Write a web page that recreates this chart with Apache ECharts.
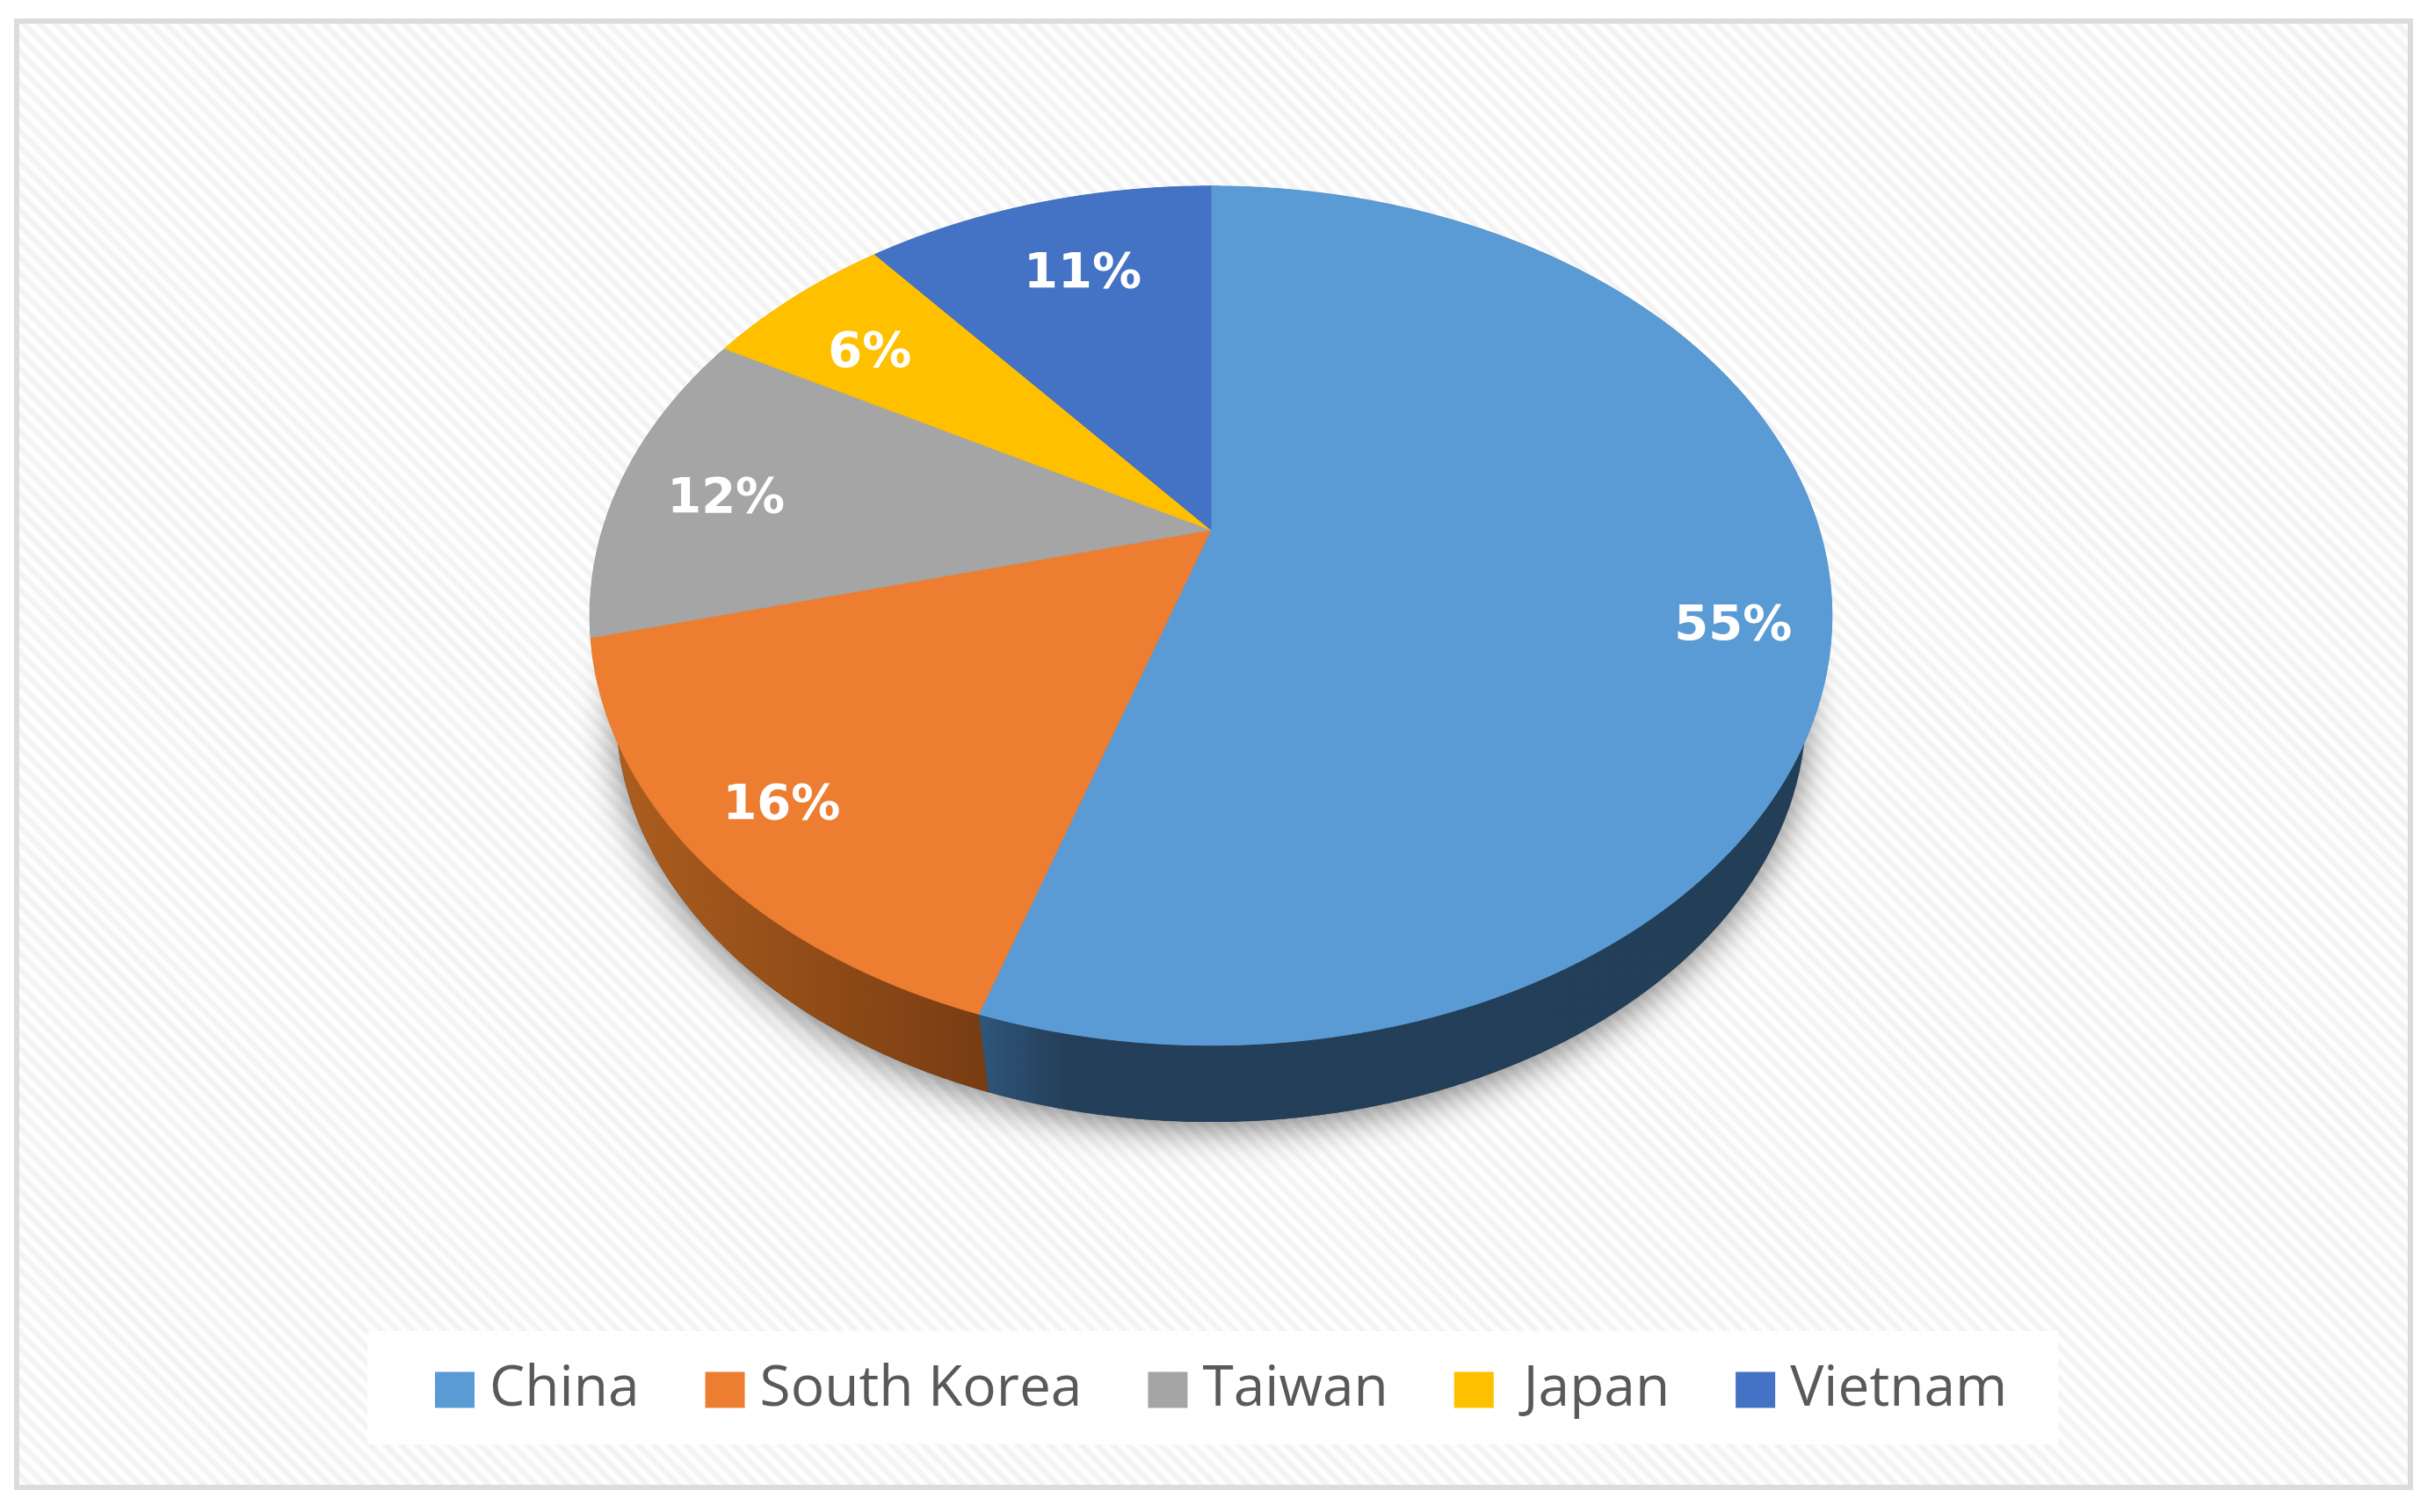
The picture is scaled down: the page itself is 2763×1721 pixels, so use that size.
<!DOCTYPE html>
<html>
<head>
<meta charset="utf-8">
<title>Pie</title>
<script src="https://cdn.jsdelivr.net/npm/echarts@6/dist/echarts.min.js"></script>
<style>
html, body { margin: 0; padding: 0; background: #fff; }
#chart { width: 2763px; height: 1721px; }
</style>
</head>
<body>
<div id="chart"></div>
<script>
const categories = ["China", "South Korea", "Taiwan", "Japan", "Vietnam"];
const shares = [55, 16, 12, 6, 11];

const topColors = ["#5b9bd5", "#ed7d31", "#a5a5a5", "#ffc000", "#4472c4"];
// side wall shading, only the first two ever show
const wallColors = [
  [[0, "#2f567b"], [0.1, "#243f5a"], [1, "#233e57"]],
  [[0, "#b0601f"], [1, "#783c12"]],
  [[0, "#636363"], [1, "#636363"]],
  [[0, "#997300"], [1, "#997300"]],
  [[0, "#294477"], [1, "#294477"]],
];
// nudge of each percent label from its slice's mid angle
const labelNudge = [[-3, 46], [-3, 5], [20, 14], [21, 29], [26, 33]];

// the tilted disc: a circle seen in perspective, so the apex is not the ellipse centre
const pie = { x: 1378, y: 603, rx: 692.5, ry: 469.4, tilt: -0.2 };
const lower = { scale: 0.958, drop: 112 };
const total = shares.reduce((a, b) => a + b, 0);

function project(value, r, scale, drop) {
  const t = (value / total) * Math.PI * 2;
  const x = r * Math.sin(t);
  const y = -r * Math.cos(t);
  const d = 1 + pie.tilt * y;
  return [pie.x + (scale * pie.rx * x) / d, pie.y + drop + (scale * pie.ry * y) / d];
}

function arc(from, to, scale, drop) {
  const pts = [];
  const n = Math.max(2, Math.ceil((to - from) * 8));
  for (let i = 0; i <= n; i++) {
    pts.push(project(from + ((to - from) * i) / n, 1, scale, drop));
  }
  return pts;
}

function renderSlice(params, api) {
  const i = params.seriesIndex;
  const value = api.value(0);
  const start = api.value(1);
  const end = start + value;
  const topArc = arc(start, end, 1, 0);
  const lowArc = arc(start, end, lower.scale, lower.drop);
  const mid = project(start + value / 2, 0.85, 1, 0);
  const color = topColors[i];
  return {
    type: "group",
    children: [
      {
        type: "polygon",
        z2: 1,
        shape: { points: [project(0, 0, lower.scale, lower.drop)].concat(lowArc) },
        style: {
          fill: "#444",
          shadowBlur: 42,
          shadowColor: "rgba(0,0,0,0.5)",
          shadowOffsetY: 8,
        },
      },
      {
        type: "polygon",
        z2: 2,
        shape: { points: topArc.concat(lowArc.slice().reverse()) },
        style: {
          fill: new echarts.graphic.LinearGradient(
            0, 0, 1, 0,
            wallColors[i].map((s) => ({ offset: s[0], color: s[1] }))
          ),
        },
      },
      {
        type: "polygon",
        z2: 3,
        shape: { points: [project(0, 0, 1, 0)].concat(topArc) },
        style: { fill: color, stroke: color, lineWidth: 1 },
      },
      {
        type: "text",
        z2: 4,
        x: mid[0] + labelNudge[i][0],
        y: mid[1] + labelNudge[i][1],
        style: {
          text: value + "%",
          fill: "#fff",
          font: 'bold 56px "DejaVu Sans"',
          align: "center",
          verticalAlign: "middle",
        },
      },
    ],
  };
}

// faint diagonal hatch of the chart area
function hatchTile() {
  const p = 18;
  const c = document.createElement("canvas");
  c.width = p;
  c.height = p;
  const ctx = c.getContext("2d");
  const img = ctx.createImageData(p, p);
  for (let y = 0; y < p; y++) {
    for (let x = 0; x < p; x++) {
      const w = 255 - 13 * (0.5 + 0.5 * Math.cos((2 * Math.PI * (x - y)) / p));
      const k = (y * p + x) * 4;
      img.data[k] = img.data[k + 1] = img.data[k + 2] = w;
      img.data[k + 3] = 255;
    }
  }
  ctx.putImageData(img, 0, 0);
  return c;
}

let acc = 0;
const series = categories.map((name, i) => {
  const s = {
    type: "custom",
    name: name,
    coordinateSystem: "none",
    itemStyle: { color: topColors[i] },
    renderItem: renderSlice,
    data: [[shares[i], acc]],
  };
  acc += shares[i];
  return s;
});

const mychart = echarts.init(document.getElementById("chart"));
mychart.setOption({
  animation: false,
  backgroundColor: "#fff",
  graphic: [
    {
      type: "rect",
      z: -10,
      shape: { x: 19, y: 24, width: 2724, height: 1669 },
      style: {
        fill: { image: hatchTile(), repeat: "repeat" },
        stroke: "#dcdcdc",
        lineWidth: 6,
      },
    },
  ],
  legend: {
    left: 418,
    top: 1515,
    padding: [35, 58, 30, 77],
    backgroundColor: "rgba(255,255,255,0.9)",
    icon: "rect",
    itemWidth: 45,
    itemHeight: 41,
    itemGap: 75,
    data: categories,
    formatter: (n) => (n === "Japan" ? " " + n : n),
    textStyle: {
      color: "#595959",
      fontSize: 64,
      fontFamily: "Open Sans",
      padding: [0, 0, 0, 12],
    },
  },
  series: series,
});
</script>
</body>
</html>
